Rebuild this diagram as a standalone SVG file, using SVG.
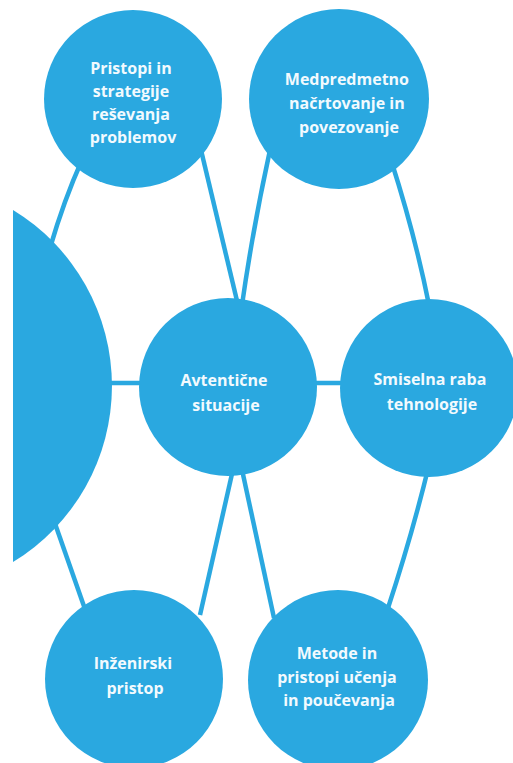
<svg xmlns="http://www.w3.org/2000/svg" width="513" height="763" viewBox="0 0 513 763">
  <style>
    .node { fill: #2AA8E0; }
    .link { fill: none; stroke: #2AA8E0; stroke-width: 4.5; stroke-linecap: butt; }
    .label { font-family: "Open Sans", "Liberation Sans", sans-serif; font-weight: 700; font-size: 16px; fill: #F2FAFE; text-anchor: middle; }
  </style>
  <rect width="513" height="763" fill="#FFFFFF"/>

  <!-- connectors, drawn beneath the circles -->
  <g id="connectors">
    <path class="link" d="M 82 160 Q 64 200 50 248"/>
    <path class="link" d="M 201 150 L 238 305"/>
    <path class="link" d="M 270 150 Q 253 228 242 305"/>
    <path class="link" d="M 391 160 Q 415 235 429 305"/>
    <path class="link" d="M 100 383 L 150 383"/>
    <path class="link" d="M 300 383 L 360 383"/>
    <path class="link" d="M 234 465 L 200 615"/>
    <path class="link" d="M 241 465 L 274 618"/>
    <path class="link" d="M 429 465 Q 412 535 388 608"/>
    <path class="link" d="M 52 515 L 86 612"/>
  </g>

  <!-- large hub, cut off at the left margin -->
  <g id="hub">
    <path class="node" d="M 13 210 A 206 206 0 0 1 13 562 Z"/>
  </g>

  <g id="node-pristopi">
    <circle class="node" cx="133" cy="99" r="89"/>
    <text class="label">
      <tspan x="133" y="74">Pristopi in</tspan>
      <tspan x="133" y="97">strategije</tspan>
      <tspan x="133" y="120">reševanja</tspan>
      <tspan x="133" y="143">problemov</tspan>
    </text>
  </g>

  <g id="node-medpredmetno">
    <circle class="node" cx="339" cy="99" r="90"/>
    <text class="label">
      <tspan x="349" y="85">Medpredmetno</tspan>
      <tspan x="349" y="109">načrtovanje in</tspan>
      <tspan x="349" y="133">povezovanje</tspan>
    </text>
  </g>

  <g id="node-avtenticne">
    <circle class="node" cx="228" cy="387" r="89"/>
    <text class="label">
      <tspan x="226" y="386">Avtentične</tspan>
      <tspan x="226" y="411">situacije</tspan>
    </text>
  </g>

  <g id="node-smiselna">
    <circle class="node" cx="429" cy="388" r="89"/>
    <text class="label">
      <tspan x="432" y="385">Smiselna raba</tspan>
      <tspan x="432" y="410">tehnologije</tspan>
    </text>
  </g>

  <g id="node-inzenirski">
    <circle class="node" cx="134" cy="679" r="89"/>
    <text class="label">
      <tspan x="135" y="669">Inženirski</tspan>
      <tspan x="135" y="694">pristop</tspan>
    </text>
  </g>

  <g id="node-metode">
    <circle class="node" cx="338" cy="680" r="90"/>
    <text class="label">
      <tspan x="339" y="659">Metode in</tspan>
      <tspan x="339" y="683">pristopi učenja</tspan>
      <tspan x="339" y="706">in poučevanja</tspan>
    </text>
  </g>
</svg>
